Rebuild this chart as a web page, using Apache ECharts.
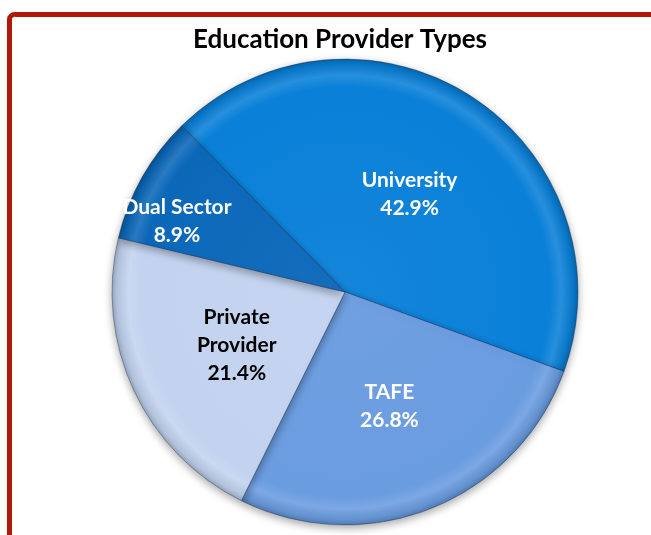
<!DOCTYPE html>
<html>
<head>
<meta charset="utf-8">
<script src="https://cdn.jsdelivr.net/npm/echarts@6/dist/echarts.min.js"></script>
<style>
  html, body { margin: 0; padding: 0; background: #ffffff; }
  #chart { width: 651px; height: 535px; }
</style>
</head>
<body>
<div id="chart"></div>
<script>
// Share of education providers by type
const categories = ['University', 'TAFE', 'Private Provider', 'Dual Sector'];
const shares = [42.9, 26.8, 21.4, 8.9];
const sliceColors = ['#0a80d8', '#6a9ce0', '#c3d3ef', '#0b68b9'];
const labelColors = ['#ffffff', '#ffffff', '#000000', '#ffffff'];
const labelText = ['University', 'TAFE', 'Private\nProvider', 'Dual Sector'];

const cx = 345, cy = 292, radius = 233;

function shade(hex, amt) {
  const n = parseInt(hex.slice(1), 16);
  let r = (n >> 16) & 255, g = (n >> 8) & 255, b = n & 255;
  const f = v => Math.max(0, Math.min(255, Math.round(amt >= 0 ? v + (255 - v) * amt : v * (1 + amt))));
  return 'rgb(' + f(r) + ',' + f(g) + ',' + f(b) + ')';
}

function sliceFill(hex) {
  return {
    type: 'radial', x: cx, y: cy, r: radius, global: true,
    colorStops: [
      { offset: 0, color: shade(hex, 0.04) },
      { offset: 0.88, color: hex },
      { offset: 0.93, color: shade(hex, 0.12) },
      { offset: 0.98, color: shade(hex, -0.08) },
      { offset: 1, color: shade(hex, -0.22) }
    ]
  };
}

const data = categories.map((name, i) => ({
  name: name,
  value: shares[i],
  itemStyle: { color: sliceFill(sliceColors[i]) },
  label: {
    color: labelColors[i],
    formatter: labelText[i] + '\n' + shares[i].toFixed(1) + '%'
  }
}));

const chart = echarts.init(document.getElementById('chart'), null, { renderer: 'canvas' });
chart.setOption({
  animation: false,
  backgroundColor: '#ffffff',
  title: {
    text: 'Education Provider Types',
    left: 335, top: 22,
    textAlign: 'center',
    textStyle: { fontFamily: 'Lato', fontWeight: 'bold', fontSize: 26, color: '#000000' }
  },
  graphic: [{
    type: 'rect',
    shape: { x: 9.5, y: 14.5, width: 700, height: 600, r: 5 },
    style: { fill: 'none', stroke: '#b0180a', lineWidth: 5 },
    z: 10
  }],
  series: [{
    type: 'pie',
    center: [cx, cy],
    radius: [0, radius],
    startAngle: 134.5,
    clockwise: true,
    avoidLabelOverlap: false,
    itemStyle: {
      borderColor: 'rgba(0,30,80,0.35)',
      borderWidth: 1,
      shadowBlur: 8,
      shadowOffsetY: 3,
      shadowColor: 'rgba(0,0,0,0.35)'
    },
    label: {
      show: true,
      position: 'inside',
      fontFamily: 'Lato',
      fontWeight: 'bold',
      fontSize: 21,
      lineHeight: 28,
      align: 'center'
    },
    labelLine: { show: false },
    labelLayout: function (params) {
      // the thin Dual Sector wedge carries its label further out
      if (params.dataIndex === 3) {
        return { dx: -64, dy: -12 };
      }
      return { dy: 3 };
    },
    data: data
  }]
});
</script>
</body>
</html>
